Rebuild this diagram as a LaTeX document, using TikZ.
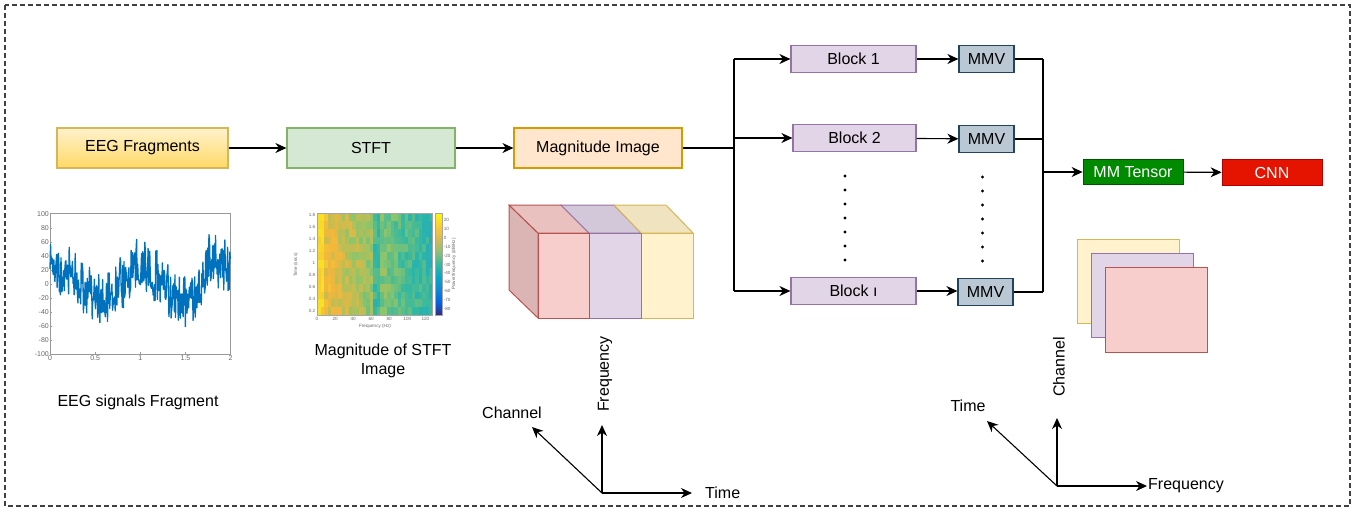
\documentclass[tikz,border=0pt]{standalone}
\usepackage{fontspec}
\setmainfont{Liberation Sans}
\usetikzlibrary{arrows.meta}

\begin{document}
\begin{tikzpicture}[x=1pt, y=-1pt, font=\fontsize{16}{19}\selectfont,
    box/.style={draw, line width=1.2pt, inner sep=0pt},
    link/.style={line width=1.1pt},
    flow/.style={link, -{Stealth[length=11pt, width=10pt, inset=3.5pt]}},
    tickLabel/.style={font=\fontsize{7}{8}\selectfont, text=black!60, inner sep=1pt},
    tinyLabel/.style={font=\fontsize{4.6}{5}\selectfont, text=black!60, inner sep=0.6pt}]
    \definecolor{yellowFill}{HTML}{FFF2CC}
    \definecolor{yellowDark}{HTML}{FFD966}
    \definecolor{yellowLine}{HTML}{D6B656}
    \definecolor{greenFill}{HTML}{D5E8D4}
    \definecolor{greenLine}{HTML}{82B366}
    \definecolor{orangeFill}{HTML}{FFE6CC}
    \definecolor{orangeLine}{HTML}{D79B00}
    \definecolor{purpleFill}{HTML}{E1D5E7}
    \definecolor{purpleLine}{HTML}{9673A6}
    \definecolor{slateFill}{HTML}{BAC8D3}
    \definecolor{slateLine}{HTML}{23445D}
    \definecolor{tensorFill}{HTML}{008A00}
    \definecolor{tensorLine}{HTML}{005700}
    \definecolor{cnnFill}{HTML}{E51400}
    \definecolor{cnnLine}{HTML}{B20000}
    \definecolor{pinkFill}{HTML}{F8CECC}
    \definecolor{pinkLine}{HTML}{B85450}
    \definecolor{eegBlue}{HTML}{0072BD}
    \definecolor{specBlue}{HTML}{1A9FD8}
    \definecolor{specTeal}{HTML}{2DB7A5}
    \definecolor{specGreen}{HTML}{8EC46A}
    \definecolor{specOrange}{HTML}{F2B63C}
    \definecolor{specYellow}{HTML}{F8E226}
    \definecolor{parA}{HTML}{352A87}
    \definecolor{parB}{HTML}{0363E1}
    \definecolor{parC}{HTML}{1485D4}
    \definecolor{parD}{HTML}{06A7C6}
    \definecolor{parE}{HTML}{38B99E}
    \definecolor{parF}{HTML}{92BF73}
    \definecolor{parG}{HTML}{D9BA56}
    \definecolor{parH}{HTML}{FCCE2E}
    \definecolor{parI}{HTML}{F9FB0E}

    \useasboundingbox (0,0) rectangle (1367,515);

    % Dashed frame
    \draw[line width=1.2pt, black!75, dash pattern=on 5pt off 3pt] (5,5) rectangle (1350,506);

    % Processing chain
    \node[box, draw=yellowLine, top color=yellowFill, bottom color=yellowDark,
          minimum width=171pt, minimum height=40pt] (eegBox) at (142.5,148) {EEG Fragments};
    \node[box, draw=greenLine, fill=greenFill,
          minimum width=168pt, minimum height=40pt] (stftBox) at (371,148) {STFT};
    \node[box, draw=orangeLine, fill=orangeFill,
          minimum width=168pt, minimum height=40pt] (magBox) at (598,148) {Magnitude Image};
    \draw[flow] (eegBox) -- (stftBox);
    \draw[flow] (stftBox) -- (magBox);

    % Blocks and MMV
    \node[box, draw=purpleLine, fill=purpleFill, minimum width=125pt, minimum height=27pt] (blockOne) at (853.5,59) {Block 1};
    \node[box, draw=purpleLine, fill=purpleFill, minimum width=123pt, minimum height=27pt] (blockTwo) at (854.5,138) {Block 2};
    \node[box, draw=purpleLine, fill=purpleFill, minimum width=125pt, minimum height=27pt] (blockL) at (853.5,291) {Block ı};
    \node[box, draw=slateLine, fill=slateFill, minimum width=55pt, minimum height=27pt] (mmvOne) at (986.5,59) {MMV};
    \node[box, draw=slateLine, fill=slateFill, minimum width=55pt, minimum height=27pt] (mmvTwo) at (986.5,139) {MMV};
    \node[box, draw=slateLine, fill=slateFill, minimum width=55pt, minimum height=27pt] (mmvL) at (985.5,292) {MMV};
    \node[box, line width=0.8pt, draw=tensorLine, fill=tensorFill, text=white,
          minimum width=100pt, minimum height=25.5pt] (mmTensor) at (1133,172) {MM Tensor};
    \node[box, line width=0.8pt, draw=cnnLine, fill=cnnFill, text=white,
          minimum width=100pt, minimum height=25.5pt] (cnnBox) at (1272,172.5) {CNN};

    % Split and merge lines
    \coordinate (splitIn) at (734,148);
    \coordinate (splitTop) at (734,59);
    \coordinate (splitBot) at (734,291);
    \coordinate (mergeTop) at (1043,59);
    \coordinate (mergeBot) at (1043,292);
    \coordinate (mergeOut) at (1043,172);
    \draw[link] (magBox.east) -- (splitIn);
    \draw[link] (splitTop) -- (splitBot);
    \draw[flow] (splitTop) -- (blockOne.west);
    \draw[flow] (splitTop |- blockTwo) -- (blockTwo.west);
    \draw[flow] (splitBot) -- (blockL.west);
    \draw[flow] (blockOne) -- (mmvOne);
    \draw[flow] (blockTwo) -- (mmvTwo);
    \draw[flow] (blockL.east) -- (blockL.east -| mmvL.west);
    \draw[link] (mmvOne.east) -- (mergeTop);
    \draw[link] (mmvTwo.east) -- (mmvTwo.east -| mergeTop);
    \draw[link] (mmvL.east) -- (mergeBot);
    \draw[link] (mergeTop) -- (mergeBot);
    \draw[flow] (mergeOut) -- (mmTensor.west);
    \draw[flow] (mmTensor) -- (cnnBox);

    % Vertical dots
    \foreach \k in {0,...,6} {
        \fill (845,176+14*\k) circle (1.6);
        \fill (982.5,177+14*\k) circle (1.6);
    }

    % EEG signal plot
    \pgfmathsetseed{7}
    \begin{scope}[shift={(50,284)}, xscale=90.25, yscale=-0.7035]
        \draw[black!40, line width=0.5pt] (0,-100) rectangle (2,100);
        \foreach \v in {-100,-80,...,100} {
            \draw[black!40, line width=0.4pt] (0,\v) -- (0.02,\v);
            \node[tickLabel, anchor=east] at (0,\v) {\v};
        }
        \foreach \t in {0,0.5,1,1.5,2} {
            \draw[black!40, line width=0.4pt] (\t,-100) -- (\t,-97);
            \node[tickLabel, anchor=north] at (\t,-100) {\t};
        }
        \draw[eegBlue, line width=1.3pt, line join=round]
            plot[domain=0:2, samples=330]
            (\x, {-22*cos(360*(\x-0.55)/0.95) + 30*max(0,1-abs(\x-1.8)/0.15) + 34*rand + 12*rand});
    \end{scope}
    \node (eegCaption) at (138,402) {EEG signals Fragment};

    % Spectrogram image
    \pgfmathsetseed{11}
    \foreach \i in {0,...,32} {
        \foreach \j in {0,...,12} {
            \pgfmathsetmacro\v{82 - 1.7*\i + 14*(\i<2) + 10*rand - 20*((\i>15)&&(\i<18))}
            \pgfmathtruncatemacro\w{max(0,min(99,\v))}
            \ifnum\w<30
                \pgfmathtruncatemacro\p{100*\w/30}
                \colorlet{cellColour}{specTeal!\p!specBlue}
            \else\ifnum\w<55
                \pgfmathtruncatemacro\p{100*(\w-30)/25}
                \colorlet{cellColour}{specGreen!\p!specTeal}
            \else\ifnum\w<80
                \pgfmathtruncatemacro\p{100*(\w-55)/25}
                \colorlet{cellColour}{specOrange!\p!specGreen}
            \else
                \pgfmathtruncatemacro\p{100*(\w-80)/20}
                \colorlet{cellColour}{specYellow!\p!specOrange}
            \fi\fi\fi
            \fill[cellColour] (317+3.5*\i,213+7.85*\j) rectangle ++(3.6,7.95);
        }
    }
    \draw[black!35, line width=0.4pt] (317,213) rectangle (432.5,315);
    \foreach \ca/\cb [count=\k from 0] in {parA/parB,parB/parC,parC/parD,parD/parE,parE/parF,parF/parG,parG/parH,parH/parI}
        \shade[bottom color=\ca, top color=\cb] (435,315-12.75*\k) rectangle (442,302.25-12.75*\k);
    \draw[black!35, line width=0.4pt] (435,213) rectangle (442,315);
    \foreach \v in {20,10,...,-80}
        \node[tinyLabel, anchor=west] at (443,{220+(20-\v)*0.89}) {\v};
    \foreach \v [count=\k from 0] in {1.8,1.6,1.4,1.2,1,0.8,0.6,0.4,0.2}
        \node[tinyLabel, anchor=east] at (316,215+12*\k) {\v};
    \foreach \f in {0,20,...,120}
        \node[tinyLabel, anchor=north] at ({317+\f*0.903},316) {\f};
    \node[tinyLabel, rotate=90] (specTime) at (296,265) {Time (secs)};
    \node[tinyLabel] (specFreq) at (375,326) {Frequency (Hz)};
    \node[tinyLabel, rotate=90] (specPower) at (454,264) {Power/frequency (dB/Hz)};
    \node[align=center] (specCaption) at (383,361) {Magnitude of STFT\\Image};

    % Stacked cube (channel x time x frequency)
    \fill[pinkFill!88!black, draw=pinkLine, line width=1pt]
        (509,205) -- (538,233) -- (538,318) -- (509,290) -- cycle;
    \filldraw[fill=pinkFill!94!black, draw=pinkLine, line width=1pt]
        (509,205) -- (561,205) -- (589,233) -- (538,233) -- cycle;
    \filldraw[fill=purpleFill!94!black, draw=purpleLine, line width=1pt]
        (561,205) -- (614,205) -- (641,233) -- (589,233) -- cycle;
    \filldraw[fill=yellowFill!94!black, draw=yellowLine, line width=1pt]
        (614,205) -- (666,205) -- (693,233) -- (641,233) -- cycle;
    \filldraw[fill=yellowFill, draw=yellowLine, line width=1pt] (641,233) rectangle (693,318);
    \filldraw[fill=purpleFill, draw=purpleLine, line width=1pt] (589,233) rectangle (641,318);
    \filldraw[fill=pinkFill, draw=pinkLine, line width=1pt] (538,233) rectangle (589,318);

    % Stacked maps (MM tensor)
    \filldraw[fill=yellowFill, draw=yellowLine, line width=1pt] (1077,239) rectangle (1179,323);
    \filldraw[fill=purpleFill, draw=purpleLine, line width=1pt] (1091,253) rectangle (1193,337);
    \filldraw[fill=pinkFill, draw=pinkLine, line width=1pt] (1105,267) rectangle (1207,352);

    % Axes of the magnitude image
    \coordinate (originA) at (602,493);
    \coordinate (freqA) at (602,425);
    \coordinate (timeA) at (692,493);
    \coordinate (chanA) at (532,427);
    \draw[flow] (originA) -- (freqA);
    \draw[flow] (originA) -- (timeA);
    \draw[flow] (originA) -- (chanA);
    \node (chanALabel) at (512,413) {Channel};
    \node[rotate=90] (freqALabel) at (605,374) {Frequency};
    \node[anchor=west, inner sep=0pt] (timeALabel) at (705,493) {Time};

    % Axes of the MM tensor
    \coordinate (originB) at (1057,486);
    \coordinate (chanB) at (1057,418);
    \coordinate (freqB) at (1147,486);
    \coordinate (timeB) at (987,421);
    \draw[flow] (originB) -- (chanB);
    \draw[flow] (originB) -- (freqB);
    \draw[flow] (originB) -- (timeB);
    \node (timeBLabel) at (968,406) {Time};
    \node[rotate=90] (chanBLabel) at (1059,367) {Channel};
    \node[anchor=west, inner sep=0pt] (freqBLabel) at (1148,486) {Frequency};

\end{tikzpicture}
\end{document}
